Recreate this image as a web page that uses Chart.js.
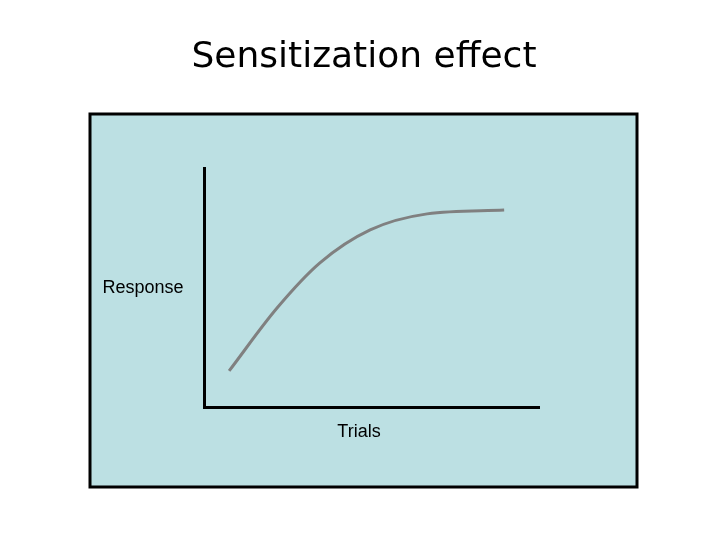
<!DOCTYPE html>
<html>
<head>
<meta charset="utf-8">
<script src="https://cdn.jsdelivr.net/npm/chart.js@4/dist/chart.umd.min.js"></script>
<style>
body { margin: 0; background: #ffffff; }
#wrap { width: 720px; height: 540px; }
</style>
</head>
<body>
<div id="wrap"><canvas id="myChart" width="720" height="540"></canvas></div>
<script>
// data (trials on x, response on y, both 0..10)
const trials = [0.75, 2.18, 3.46, 4.96, 6.66, 8.96]
const response = [1.51, 4.14, 6.03, 7.41, 8.08, 8.24]

const titleText = "Sensitization effect"
const xLabel = "Trials"
const yLabel = "Response"

let points = []
for (let i = 0; i < trials.length; i++) {
    points.push({x: trials[i], y: response[i]})
}

// blue panel, title and the two axis words
const frame = {
    id: "frame",
    beforeDraw(chart) {
        const ctx = chart.ctx
        ctx.save()
        ctx.fillStyle = "#bce0e3"
        ctx.fillRect(90, 114, 547, 373)
        ctx.lineWidth = 3
        ctx.strokeStyle = "#000000"
        ctx.strokeRect(90, 114, 547, 373)
        ctx.restore()
    },
    afterDraw(chart) {
        const ctx = chart.ctx
        ctx.save()
        ctx.fillStyle = "#000000"
        ctx.textAlign = "center"
        ctx.textBaseline = "middle"
        ctx.font = "36px 'Comic Sans MS', 'DejaVu Sans', sans-serif"
        ctx.fillText(titleText, 364, 58)
        ctx.font = "18px 'Liberation Sans', Arial, sans-serif"
        ctx.fillText(yLabel, 143, 288)
        ctx.fillText(xLabel, 359, 432)
        ctx.restore()
    }
}

const config = {
    type: "line",
    data: {
        datasets: [
            {label: "response",
                borderColor: "#808080",
                borderWidth: 3,
                pointRadius: 0,
                cubicInterpolationMode: "monotone",
                data: points}
        ]
    },
    options: {
        responsive: false,
        animation: false,
        layout: {padding: {left: 196, right: 181, top: 168, bottom: 125}},
        plugins: {legend: {display: false}, tooltip: {enabled: false}},
        scales: {
            x: {type: "linear", min: 0, max: 10,
                grid: {display: false},
                ticks: {display: false},
                border: {color: "#000000", width: 3}},
            y: {type: "linear", min: 0, max: 10,
                grid: {display: false},
                ticks: {display: false},
                border: {color: "#000000", width: 3}}
        }
    },
    plugins: [frame]
}

const mychart = new Chart(document.getElementById("myChart"), config)
</script>
</body>
</html>
